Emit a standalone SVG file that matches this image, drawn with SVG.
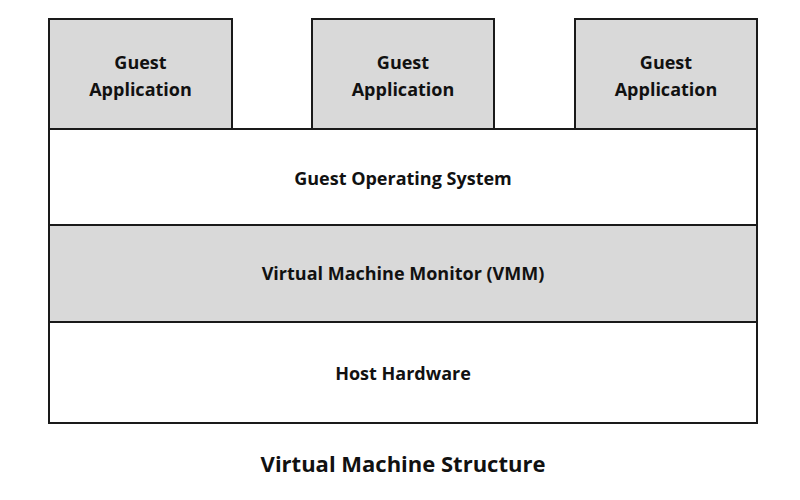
<svg xmlns="http://www.w3.org/2000/svg" width="800" height="500" viewBox="0 0 800 500">
<style>
.b{stroke:#1a1a1a;stroke-width:2}
.g{fill:#d9d9d9}
.w{fill:#ffffff}
text{font-family:"Open Sans","Liberation Sans",sans-serif;font-weight:bold;font-size:18px;fill:#111;text-anchor:middle}
</style>
<rect width="800" height="500" fill="#fff"/>
<g id="app1"><rect class="b g" x="49" y="19" width="183" height="110"/><text x="140.5" y="69">Guest</text><text x="140.5" y="96">Application</text></g>
<g id="app2"><rect class="b g" x="312" y="19" width="182" height="110"/><text x="403" y="69">Guest</text><text x="403" y="96">Application</text></g>
<g id="app3"><rect class="b g" x="575" y="19" width="182" height="110"/><text x="666" y="69">Guest</text><text x="666" y="96">Application</text></g>
<g id="os"><rect class="b w" x="49" y="129" width="708" height="96"/><text x="403" y="185">Guest Operating System</text></g>
<g id="vmm"><rect class="b g" x="49" y="225" width="708" height="97"/><text x="403" y="280">Virtual Machine Monitor (VMM)</text></g>
<g id="hw"><rect class="b w" x="49" y="322" width="708" height="101"/><text x="403" y="380">Host Hardware</text></g>
<g id="connectors"/>
<text x="403" y="472" style="font-size:22px">Virtual Machine Structure</text>
</svg>
